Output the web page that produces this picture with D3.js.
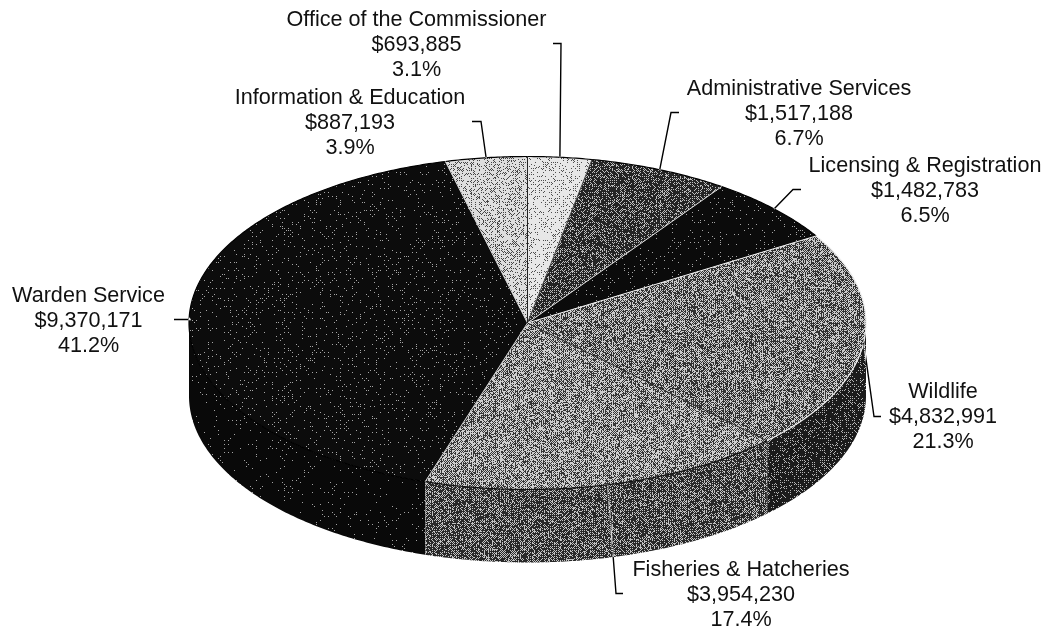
<!DOCTYPE html>
<html>
<head>
<meta charset="utf-8">
<script src="https://cdn.jsdelivr.net/npm/d3@7"></script>
<style>
  html, body { margin: 0; padding: 0; background: #fff; }
  text { font-family: "Liberation Sans", Arial, sans-serif; font-size: 21.6px; fill: #111; text-anchor: middle; }
</style>
</head>
<body>
<svg id="chart" width="1051" height="630"></svg>
<script>
var categories = ["Office of the Commissioner", "Administrative Services", "Licensing & Registration",
    "Wildlife", "Fisheries & Hatcheries", "Warden Service", "Information & Education"];
var amounts = [693885, 1517188, 1482783, 4832991, 3954230, 9370171, 887193];

// share of white pixels in the halftone, top face and side wall
var topShades = [0.76, 0.35, 0.11, 0.48, 0.52, 0.12, 0.68];
var sideShades = [0.5, 0.3, 0.08, 0.26, 0.40, 0.09, 0.5];
// colour of the line at the end of each slice, they come out different in the scan
var edgeColors = ["#444", "#ddd", "#eee", "#222", "#ccc", "#ccc", "#222"];
var rimColors = ["#000", "#000", "#000", "#eee", "#111", "#000", "#000"];

// label centre, first baseline, leader elbow and leader end
var labelLayout = [
    {x: 416.5, y: 26, elbow: [561, 43.5], end: [553, 43.5]},
    {x: 799, y: 95, elbow: [671, 112.5], end: [679, 112.5]},
    {x: 925, y: 172, elbow: [793, 189.5], end: [801, 189.5]},
    {x: 943, y: 398, elbow: [874, 416.5], end: [881, 416.5]},
    {x: 741, y: 576, elbow: [616, 593.5], end: [623, 593.5]},
    {x: 88.5, y: 302, elbow: [190, 319.5], end: [174, 319.5]},
    {x: 350, y: 104, elbow: [481, 121.5], end: [472, 121.5]}
];

var cx = 527.5, cy = 323, rx = 338.5, ry = 166.5, depth = 73;
var lineHeight = 25;

var xScale = d3.scaleLinear().domain([-1, 1]).range([cx - rx, cx + rx]);
var yScale = d3.scaleLinear().domain([-1, 1]).range([cy - ry, cy + ry]);

var svg = d3.select("#chart");
var defs = svg.append("defs");

var total = d3.sum(amounts);
var slices = d3.pie().sort(null)(amounts);
var money = d3.format("$,");
var percent = d3.format(".1%");

var bayer = [
    [0, 12, 3, 15],
    [8, 4, 11, 7],
    [2, 14, 1, 13],
    [10, 6, 9, 5]
];

function speckle(x, y) {
    var n = Math.sin(x * 127.1 + y * 311.7) * 43758.5453;
    n = n - Math.floor(n);
    n = Math.sin(n * 91.7 + x * 3.1) * 24634.6345;
    return n - Math.floor(n);
}

// halftone tile, looks like the photocopied original, softened like a scan
function addHalftone(id, level) {
    var size = 256;
    var canvas = document.createElement("canvas");
    canvas.width = size;
    canvas.height = size;
    var ctx = canvas.getContext("2d");
    var img = ctx.createImageData(size, size);
    for (var y = 0; y < size; y++) {
        for (var x = 0; x < size; x++) {
            var t = 0.5 * (bayer[y % 4][x % 4] + 0.5) / 16 + 0.5 * speckle(x, y);
            var hard = t < level ? 255 : 0;
            var v = Math.round(0.6 * hard + 0.4 * level * 255);
            var i = (y * size + x) * 4;
            img.data[i] = img.data[i + 1] = img.data[i + 2] = v;
            img.data[i + 3] = 255;
        }
    }
    ctx.putImageData(img, 0, 0);
    defs.append("pattern")
        .attr("id", id)
        .attr("patternUnits", "userSpaceOnUse")
        .attr("width", size)
        .attr("height", size)
        .append("image")
        .attr("href", canvas.toDataURL())
        .attr("width", size)
        .attr("height", size)
        .style("image-rendering", "pixelated");
}

topShades.forEach(function(s, i) { addHalftone("top" + i, s); });
sideShades.forEach(function(s, i) { addHalftone("side" + i, s); });

var line = d3.line();

function rimPoint(a, drop) {
    return [xScale(Math.sin(a)), yScale(-Math.cos(a)) + (drop || 0)];
}

function sampleAngles(a0, a1) {
    var n = Math.max(2, Math.ceil((a1 - a0) / 0.01));
    return d3.range(n + 1).map(function(k) { return a0 + (a1 - a0) * k / n; });
}

// side walls, only what faces the viewer
slices.forEach(function(d, i) {
    var a0 = Math.max(d.startAngle, Math.PI / 2);
    var a1 = Math.min(d.endAngle, Math.PI * 1.5);
    if (a1 <= a0) return;
    var angles = sampleAngles(a0, a1);
    var pts = angles.map(function(a) { return rimPoint(a, 0); })
        .concat(angles.slice().reverse().map(function(a) { return rimPoint(a, depth); }));
    svg.append("path")
        .attr("d", line(pts) + "Z")
        .attr("fill", "url(#side" + i + ")");
    // bright vertical seam where two walls meet
    if (d.endAngle < Math.PI * 1.5) {
        var seam = rimPoint(d.endAngle, 0);
        svg.append("line")
            .attr("x1", seam[0]).attr("y1", seam[1])
            .attr("x2", seam[0]).attr("y2", seam[1] + depth)
            .attr("stroke", "#ddd")
            .attr("stroke-width", 1)
            .attr("stroke-dasharray", "2 1");
    }
});

// top face
slices.forEach(function(d, i) {
    var pts = [[cx, cy]].concat(sampleAngles(d.startAngle, d.endAngle).map(function(a) { return rimPoint(a); }));
    svg.append("path")
        .attr("d", line(pts) + "Z")
        .attr("fill", "url(#top" + i + ")");
});

slices.forEach(function(d, i) {
    svg.append("path")
        .attr("d", line(sampleAngles(d.startAngle, d.endAngle).map(function(a) { return rimPoint(a); })))
        .attr("fill", "none")
        .attr("stroke", rimColors[i])
        .attr("stroke-width", 1.2);
});

slices.forEach(function(d, i) {
    svg.append("path")
        .attr("d", line([[cx, cy], rimPoint(d.endAngle)]))
        .attr("fill", "none")
        .attr("stroke", edgeColors[i])
        .attr("stroke-width", 1);
});

// leaders, difference makes them black on paper and white across the dark walls
slices.forEach(function(d, i) {
    var mid = (d.startAngle + d.endAngle) / 2;
    var lay = labelLayout[i];
    svg.append("path")
        .attr("d", line([rimPoint(mid), lay.elbow, lay.end]))
        .attr("fill", "none")
        .attr("stroke", "#fff")
        .attr("stroke-width", 1.4)
        .style("mix-blend-mode", "difference");
});

// labels
slices.forEach(function(d, i) {
    var lay = labelLayout[i];
    var t = svg.append("text").attr("x", lay.x).attr("y", lay.y);
    [categories[i], money(amounts[i]), percent(amounts[i] / total)].forEach(function(s, k) {
        t.append("tspan").attr("x", lay.x).attr("y", lay.y + k * lineHeight).text(s);
    });
});
</script>
</body>
</html>
